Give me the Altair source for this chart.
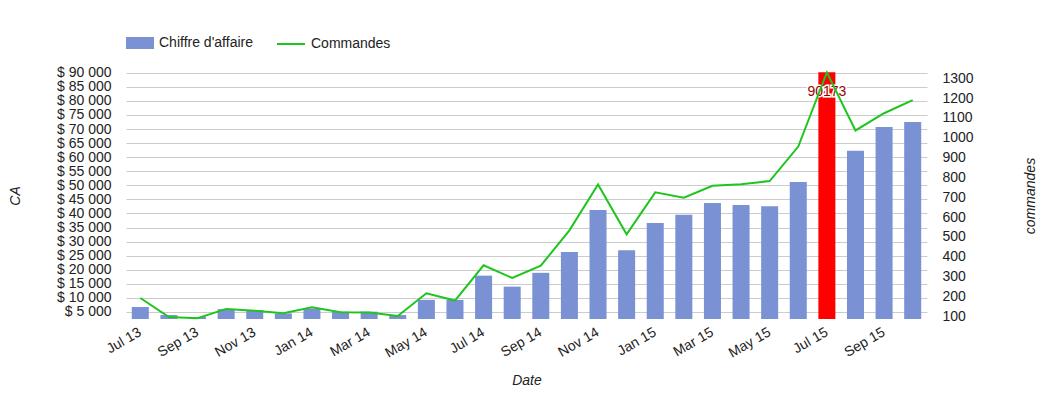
import altair as alt
import pandas as pd

months = ["Jul 13", "Aug 13", "Sep 13", "Oct 13", "Nov 13", "Dec 13",
          "Jan 14", "Feb 14", "Mar 14", "Apr 14", "May 14", "Jun 14",
          "Jul 14", "Aug 14", "Sep 14", "Oct 14", "Nov 14", "Dec 14",
          "Jan 15", "Feb 15", "Mar 15", "Apr 15", "May 15", "Jun 15",
          "Jul 15", "Aug 15", "Sep 15", "Oct 15"]
ca = [6800, 3900, 3200, 6000, 5700, 4500,
      6200, 5100, 5100, 3900, 9300, 9300,
      17900, 14000, 18900, 26300, 41200, 26900,
      36600, 39500, 43700, 43000, 42600, 51200,
      90173, 62300, 70700, 72500]
commandes = [192, 96, 90, 137, 127, 115,
             145, 120, 119, 101, 216, 179,
             357, 293, 355, 533, 765, 513,
             725, 698, 758, 766, 782, 956,
             1330, 1037, 1124, 1190]
highlight = "Jul 15"
ca_ticks = list(range(5000, 90001, 5000))
cmd_ticks = list(range(100, 1301, 100))
ca_domain = [2500, 90250]
cmd_domain = [86, 1332]

df = pd.DataFrame({"mois": months, "ca": ca, "commandes": commandes})
df["serie_ca"] = "Chiffre d'affaire"
df["serie_cmd"] = "Commandes"

FONT = "Liberation Sans"
W, H = 801, 247
BLUE = "#7a92d4"
GREEN = "#1ec51e"

x_enc = alt.X(
    "mois:N", sort=months,
    scale=alt.Scale(paddingInner=0.405, paddingOuter=0.2025),
    axis=alt.Axis(values=months[::2], labelAngle=330, labelAlign="right",
                  labelBaseline="middle", labelPadding=12, ticks=False,
                  domain=False, grid=False, title="Date",
                  titleX=W / 2, titleY=61, titleBaseline="middle",
                  titleAlign="center"),
)

y_ca = alt.Y(
    "ca:Q",
    scale=alt.Scale(domain=ca_domain, zero=False, nice=False),
    axis=alt.Axis(values=ca_ticks, tickCount=len(ca_ticks), ticks=False,
                  domain=False, labelPadding=15,
                  labelOverlap=False, labelBound=False, labelFlush=False,
                  labelExpr="'$ ' + replace(format(datum.value, ','), ',', ' ')",
                  title="CA", titleAngle=270, titleX=-111, titleY=H / 2,
                  titleAlign="center", titleBaseline="middle", grid=True),
)

bars = alt.Chart(df).mark_bar().encode(
    x=x_enc,
    y=y_ca,
    y2=alt.datum(ca_domain[0]),
    color=alt.condition(
        alt.datum.mois == highlight,
        alt.value("#ff0000"),
        alt.Color("serie_ca:N",
                  scale=alt.Scale(domain=["Chiffre d'affaire"], range=[BLUE]),
                  legend=alt.Legend(orient="none", legendX=0, legendY=-43,
                                    direction="horizontal", title=None,
                                    symbolType="M-1,-0.43L1,-0.43L1,0.43L-1,0.43Z",
                                    symbolSize=784, symbolStrokeWidth=0,
                                    symbolOpacity=1, labelOffset=5)),
    ),
)

hl = alt.Chart(df).transform_filter(alt.datum.mois == highlight)
halo = hl.mark_text(dy=20, fontSize=14, font=FONT, stroke="white", strokeWidth=3,
                    fill="white", baseline="middle").encode(
    x=alt.X("mois:N", sort=months), y=alt.Y("ca:Q"),
    text=alt.Text("ca:Q", format="d"))
txt = hl.mark_text(dy=20, fontSize=14, font=FONT, fill="#990000",
                   baseline="middle").encode(
    x=alt.X("mois:N", sort=months), y=alt.Y("ca:Q"),
    text=alt.Text("ca:Q", format="d"))

line = alt.Chart(df).mark_line(strokeWidth=2).encode(
    x=alt.X("mois:N", sort=months),
    y=alt.Y("commandes:Q",
            scale=alt.Scale(domain=cmd_domain, zero=False, nice=False),
            axis=alt.Axis(orient="right", values=cmd_ticks,
                          tickCount=len(cmd_ticks), ticks=False,
                          domain=False, grid=False, labelPadding=15, format="d",
                          labelOverlap=False, labelBound=False, labelFlush=False,
                          labelAlign="left", title="commandes", titleAngle=270,
                          titleX=103, titleY=H / 2, titleAlign="center",
                          titleBaseline="middle")),
    stroke=alt.Stroke("serie_cmd:N",
                      scale=alt.Scale(domain=["Commandes"], range=[GREEN]),
                      legend=alt.Legend(orient="none", legendX=150, legendY=-43,
                                        direction="horizontal", title=None,
                                        symbolType="stroke", symbolSize=784,
                                        symbolStrokeWidth=2, labelOffset=5)),
)

chart = alt.layer(alt.layer(bars, halo, txt), line).resolve_scale(
    y="independent", color="independent", stroke="independent"
).properties(
    width=W, height=H,
    autosize=alt.AutoSizeParams(type="none"),
    padding={"left": 118, "top": 64, "right": 114, "bottom": 70},
).configure_view(stroke=None).configure_axis(
    labelFont=FONT, labelFontSize=14, labelColor="#222222",
    titleFont=FONT, titleFontSize=14, titleFontWeight="normal",
    titleFontStyle="italic", titleColor="#222222", gridColor="#cccccc",
).configure_legend(
    labelFont=FONT, labelFontSize=14, labelColor="#222222",
)

chart.save("out.html", embed_options={"renderer": "svg", "actions": False})
